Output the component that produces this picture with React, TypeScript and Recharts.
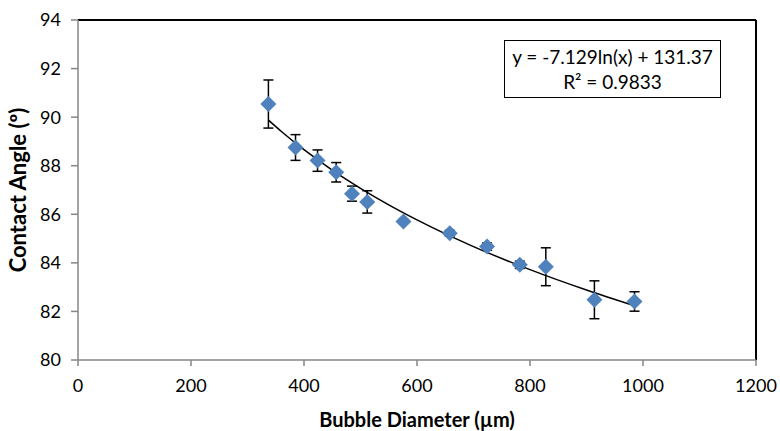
import React from "react";
import {
  ComposedChart,
  Scatter,
  Line,
  XAxis,
  YAxis,
  ErrorBar,
  ReferenceLine,
} from "recharts";

// measured points (bubble diameter in µm, contact angle in degrees, error)
const diameters = [337, 385, 424, 457, 485, 512, 576, 658, 724, 782, 828, 914, 985];
const angles = [90.54, 88.75, 88.21, 87.73, 86.85, 86.51, 85.7, 85.22, 84.67, 83.92, 83.84, 82.48, 82.41];
const errors = [0.99, 0.53, 0.44, 0.4, 0.31, 0.46, 0.08, 0.12, 0.15, 0.15, 0.78, 0.78, 0.4];

// log trendline
const trendX = [337, 360, 400, 450, 500, 550, 600, 700, 800, 900, 985];
const trendY = [89.88, 89.41, 88.66, 87.82, 87.07, 86.39, 85.77, 84.67, 83.72, 82.88, 82.23];

const xTicks = [0, 200, 400, 600, 800, 1000, 1200];
const yTicks = [80, 82, 84, 86, 88, 90, 92, 94];

const font = "Lato, 'Open Sans', sans-serif";
const axisGray = "#868686";

const points = diameters.map((d, i) => ({ x: d, y: angles[i], err: errors[i] }));
const trend = trendX.map((d, i) => ({ x: d, y: trendY[i] }));

const Diamond = (props: any) => {
  const { cx, cy } = props;
  const r = 8;
  return (
    <polygon
      points={`${cx},${cy - r} ${cx + r},${cy} ${cx},${cy + r} ${cx - r},${cy}`}
      fill="#4F81BD"
    />
  );
};

export default function App() {
  return (
    <div style={{ position: "absolute", left: 0, top: 0, width: 780, height: 431, background: "#fff", fontFamily: font }}>
      <ComposedChart width={780} height={431} margin={{ top: 20, right: 24, left: 8, bottom: 0 }}>
        <XAxis
          type="number"
          dataKey="x"
          domain={[0, 1200]}
          ticks={xTicks}
          allowDataOverflow
          stroke={axisGray}
          strokeWidth={1.5}
          tickSize={6}
          tickMargin={13}
          height={71}
          tick={{ fill: "#000", fontSize: 18, fontFamily: font }}
          label={{
            value: "Bubble Diameter (µm)",
            position: "insideBottom",
            offset: 4,
            style: { fill: "#000", fontSize: 20, fontWeight: 700, fontFamily: font },
          }}
        />
        <YAxis
          type="number"
          dataKey="y"
          domain={[80, 94]}
          ticks={yTicks}
          allowDataOverflow
          stroke={axisGray}
          strokeWidth={1.5}
          tickSize={7}
          tickMargin={10}
          width={70}
          tick={{ fill: "#000", fontSize: 18, fontFamily: font }}
          label={{
            value: "Contact Angle (º)",
            angle: -90,
            position: "insideLeft",
            offset: 0,
            dx: 10,
            style: { fill: "#000", fontSize: 22, fontWeight: 700, fontFamily: font, textAnchor: "middle" },
          }}
        />
        <ReferenceLine y={94} stroke="#000" strokeWidth={2} />
        <ReferenceLine x={1200} stroke="#000" strokeWidth={2} />
        <Line
          data={trend}
          dataKey="y"
          type="monotone"
          stroke="#000"
          strokeWidth={1.5}
          dot={false}
          activeDot={false}
          isAnimationActive={false}
        />
        <Scatter data={points} dataKey="y" shape={<Diamond />} isAnimationActive={false}>
          <ErrorBar dataKey="err" direction="y" width={5} stroke="#000" strokeWidth={1.5} />
        </Scatter>
      </ComposedChart>
      <div
        style={{
          position: "absolute",
          left: 504,
          top: 40,
          width: 217,
          height: 58,
          border: "1px solid #000",
          boxSizing: "border-box",
          textAlign: "center",
          fontSize: 19,
          lineHeight: "25px",
          paddingTop: 3,
          color: "#000",
        }}
      >
        <div>y = -7.129ln(x) + 131.37</div>
        <div>R² = 0.9833</div>
      </div>
    </div>
  );
}
